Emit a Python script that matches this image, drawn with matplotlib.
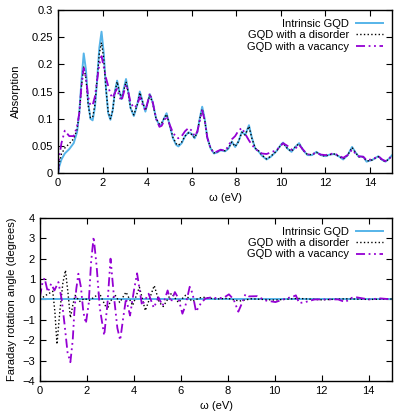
"""Absorption and Faraday rotation of graphene quantum dots (GQD)."""

import matplotlib

matplotlib.use("Agg")
import matplotlib.pyplot as plt

plt.rcParams["font.family"] = ["Liberation Sans", "DejaVu Sans"]
plt.rcParams["font.size"] = 8

SERIES_LABELS = ["Intrinsic GQD", "GQD with a disorder", "GQD with a vacancy"]

# absorption spectrum
omega_abs = [
    0.0, 0.05, 0.15, 0.3, 0.5, 0.7, 0.85, 0.95, 1.05, 1.15, 1.25, 1.35, 1.45,
    1.55, 1.65, 1.75, 1.85, 1.95, 2.05, 2.15, 2.25, 2.35, 2.45, 2.55, 2.65,
    2.75, 2.85, 2.95, 3.05, 3.15, 3.25, 3.4, 3.55, 3.67, 3.8, 3.92, 4.02,
    4.12, 4.25, 4.4, 4.55, 4.65, 4.75, 4.87, 5.0, 5.15, 5.3, 5.4, 5.55, 5.7,
    5.86, 6.0, 6.13, 6.25, 6.38, 6.47, 6.58, 6.7, 6.85, 7.0, 7.15, 7.3, 7.5,
    7.65, 7.8, 7.95, 8.1, 8.25, 8.4, 8.57, 8.7, 8.85, 9.0, 9.15, 9.36, 9.55,
    9.8, 10.0, 10.1, 10.3, 10.48, 10.65, 10.82, 11.0, 11.2, 11.4, 11.6, 11.8,
    12.0, 12.2, 12.4, 12.6, 12.8, 13.0, 13.2, 13.35, 13.5, 13.7, 13.85, 14.1,
    14.38, 14.55, 14.7, 14.85, 15.0,
]
abs_intrinsic = [
    0.0, 0.012, 0.025, 0.036, 0.044, 0.055, 0.075, 0.11, 0.17, 0.22, 0.19,
    0.13, 0.100, 0.097, 0.12, 0.17, 0.23, 0.26, 0.22, 0.155, 0.11, 0.098,
    0.115, 0.15, 0.17, 0.15, 0.136, 0.155, 0.173, 0.15, 0.12, 0.105, 0.125,
    0.15, 0.13, 0.113, 0.13, 0.145, 0.13, 0.10, 0.088, 0.09, 0.10, 0.11,
    0.09, 0.065, 0.052, 0.049, 0.055, 0.068, 0.075, 0.072, 0.064, 0.075,
    0.105, 0.122, 0.10, 0.065, 0.045, 0.036, 0.038, 0.042, 0.040, 0.045,
    0.058, 0.048, 0.058, 0.076, 0.070, 0.088, 0.065, 0.045, 0.040, 0.032,
    0.025, 0.030, 0.040, 0.052, 0.056, 0.045, 0.039, 0.048, 0.055, 0.042,
    0.033, 0.033, 0.039, 0.033, 0.031, 0.034, 0.035, 0.031, 0.025, 0.033,
    0.048, 0.038, 0.030, 0.030, 0.021, 0.024, 0.031, 0.024, 0.021, 0.026,
    0.033,
]
abs_disorder = [
    0.0, 0.018, 0.035, 0.046, 0.054, 0.063, 0.08, 0.11, 0.16, 0.195, 0.175,
    0.125, 0.102, 0.102, 0.125, 0.17, 0.22, 0.24, 0.21, 0.155, 0.112, 0.10,
    0.115, 0.148, 0.168, 0.15, 0.137, 0.152, 0.168, 0.148, 0.12, 0.107,
    0.125, 0.148, 0.13, 0.115, 0.13, 0.143, 0.128, 0.10, 0.09, 0.092, 0.10,
    0.108, 0.09, 0.066, 0.054, 0.051, 0.057, 0.068, 0.074, 0.071, 0.065,
    0.075, 0.103, 0.118, 0.098, 0.065, 0.046, 0.037, 0.039, 0.042, 0.041,
    0.046, 0.057, 0.049, 0.058, 0.075, 0.070, 0.086, 0.064, 0.046, 0.041,
    0.033, 0.026, 0.031, 0.040, 0.051, 0.055, 0.045, 0.040, 0.048, 0.054,
    0.042, 0.034, 0.034, 0.038, 0.033, 0.031, 0.034, 0.035, 0.031, 0.026,
    0.033, 0.047, 0.038, 0.030, 0.030, 0.022, 0.024, 0.030, 0.024, 0.021,
    0.026, 0.032,
]
abs_vacancy = [
    0.0, 0.03, 0.055, 0.078, 0.068, 0.068, 0.085, 0.11, 0.16, 0.193, 0.175,
    0.14, 0.125, 0.125, 0.14, 0.17, 0.2, 0.215, 0.195, 0.175, 0.16, 0.145,
    0.138, 0.148, 0.155, 0.14, 0.133, 0.148, 0.163, 0.15, 0.13, 0.12, 0.125,
    0.14, 0.125, 0.115, 0.13, 0.147, 0.13, 0.10, 0.085, 0.087, 0.095, 0.105,
    0.09, 0.075, 0.066, 0.064, 0.068, 0.077, 0.083, 0.078, 0.068, 0.076,
    0.10, 0.115, 0.097, 0.065, 0.045, 0.037, 0.040, 0.043, 0.041, 0.050,
    0.062, 0.068, 0.078, 0.083, 0.072, 0.060, 0.052, 0.045, 0.040, 0.036,
    0.035, 0.038, 0.042, 0.050, 0.055, 0.050, 0.043, 0.045, 0.052, 0.043,
    0.034, 0.035, 0.037, 0.034, 0.033, 0.035, 0.036, 0.032, 0.028, 0.033,
    0.043, 0.036, 0.031, 0.030, 0.024, 0.025, 0.031, 0.025, 0.022, 0.026,
    0.033,
]

# Faraday rotation angle (degrees)
omega_rot_intrinsic = [0.0, 15.0]
rot_intrinsic = [0.0, 0.0]

omega_rot_disorder = [
    0.0, 0.25, 0.55, 0.64, 0.73, 0.85, 0.98, 1.09, 1.2, 1.3, 1.4, 1.5, 1.7,
    1.9, 2.1, 2.3, 2.54, 2.7, 2.87, 3.0, 3.2, 3.4, 3.67, 3.95, 4.24, 4.49,
    4.87, 5.08, 5.25, 5.6, 5.9, 6.2, 6.5, 6.8, 7.0, 7.5, 8.0, 8.5, 9.0, 10.0,
    11.0, 12.0, 13.0, 14.0, 15.0,
]
rot_disorder = [
    0.0, 0.2, 0.4, -0.6, -2.2, -0.6, 0.8, 1.43, 0.3, -0.9, -0.3, 0.2, -0.1,
    0.05, -0.05, 0.1, 0.3, -0.1, -0.5, -0.1, 0.22, -0.15, 0.36, -0.3, 0.6,
    -0.55, 0.68, -0.13, -0.35, 0.3, -0.15, 0.2, -0.1, 0.08, 0.1, 0.02, 0.05,
    -0.08, 0.03, -0.03, 0.05, -0.02, 0.03, 0.0, 0.02,
]

omega_rot_vacancy = [
    0.0, 0.1, 0.2, 0.34, 0.48, 0.62, 0.79, 0.93, 1.05, 1.18, 1.3, 1.4, 1.47,
    1.55, 1.64, 1.75, 1.85, 1.96, 2.08, 2.18, 2.29, 2.42, 2.55, 2.74, 2.88,
    3.01, 3.15, 3.3, 3.42, 3.55, 3.67, 3.84, 4.0, 4.14, 4.35, 4.63, 4.85,
    5.05, 5.23, 5.44, 5.58, 5.75, 5.9, 6.07, 6.2, 6.38, 6.5, 6.65, 6.85,
    7.05, 7.3, 7.6, 7.85, 8.05, 8.25, 8.45, 8.6, 8.75, 8.9, 9.25, 9.6, 10.03,
    10.45, 10.8, 10.9, 11.04, 11.3, 11.7, 12.7, 13.0, 13.28, 13.5, 14.0,
    14.5, 15.0,
]
rot_vacancy = [
    0.1, 0.75, 1.05, 0.36, 0.77, 0.44, 0.85, 0.0, -1.2, -2.6, -3.08, -2.0,
    -0.6, 0.5, 1.26, 0.6, -0.6, -1.18, -0.2, 1.8, 3.07, 1.6, -0.4, -1.77,
    -0.2, 2.0, 0.2, -1.4, -2.0, -0.9, 0.05, -0.79, 0.4, 1.28, -0.3, 0.28,
    -0.41, 0.1, -0.3, 0.44, -0.13, 0.36, 0.05, -0.7, -0.3, 0.62, 0.3, -0.6,
    -0.2, 0.05, 0.1, 0.05, 0.1, 0.25, 0.0, -0.6, -0.2, 0.25, 0.15, 0.16,
    -0.05, -0.13, 0.03, 0.15, 0.2, -0.18, -0.13, 0.0, 0.0, -0.13, 0.08, 0.1,
    0.0, 0.05, 0.0,
]

BLUE = "#56b4e9"
PURPLE = "#9400d3"
DASH_DOT_DOT = (0, (5, 2, 1, 2, 1, 2))


def _style_axis(ax):
    ax.tick_params(direction="in", top=True, right=True, length=4, width=0.8)
    for spine in ax.spines.values():
        spine.set_linewidth(1.0)
    ax.set_xlim(0, 15)
    ax.set_xticks(range(0, 15, 2))
    ax.set_xlabel("ω (eV)", labelpad=4)


def _legend(ax):
    ax.legend(
        loc="upper right",
        frameon=False,
        markerfirst=False,
        handlelength=2.5,
        labelspacing=0.12,
        handletextpad=0.6,
        borderaxespad=0.6,
        borderpad=0.2,
        fontsize=8,
    )


fig = plt.figure(figsize=(4.15, 4.15), dpi=100)
ax_abs = fig.add_axes([0.14, 0.583, 0.805, 0.393])
ax_rot = fig.add_axes([0.096, 0.082, 0.849, 0.393])

ax_abs.plot(omega_abs, abs_intrinsic, color=BLUE, lw=1.4, label=SERIES_LABELS[0])
ax_abs.plot(omega_abs, abs_disorder, color="black", lw=1.0, ls=":",
            label=SERIES_LABELS[1])
ax_abs.plot(omega_abs, abs_vacancy, color=PURPLE, lw=1.3, ls=DASH_DOT_DOT,
            label=SERIES_LABELS[2])
_style_axis(ax_abs)
ax_abs.set_ylim(0, 0.3)
ax_abs.set_yticks([0, 0.05, 0.1, 0.15, 0.2, 0.25, 0.3])
ax_abs.set_yticklabels(["0", "0.05", "0.1", "0.15", "0.2", "0.25", "0.3"])
ax_abs.set_ylabel("Absorption", labelpad=8)
_legend(ax_abs)

ax_rot.plot(omega_rot_intrinsic, rot_intrinsic, color=BLUE, lw=1.4,
            label=SERIES_LABELS[0])
ax_rot.plot(omega_rot_disorder, rot_disorder, color="black", lw=1.0, ls=":",
            label=SERIES_LABELS[1])
ax_rot.plot(omega_rot_vacancy, rot_vacancy, color=PURPLE, lw=1.3,
            ls=DASH_DOT_DOT, label=SERIES_LABELS[2])
_style_axis(ax_rot)
ax_rot.set_ylim(-4, 4)
ax_rot.set_yticks(range(-4, 5))
ax_rot.set_ylabel("Faraday rotation angle (degrees)", labelpad=4)
_legend(ax_rot)

fig.savefig("out.png", dpi=100)
plt.close(fig)
